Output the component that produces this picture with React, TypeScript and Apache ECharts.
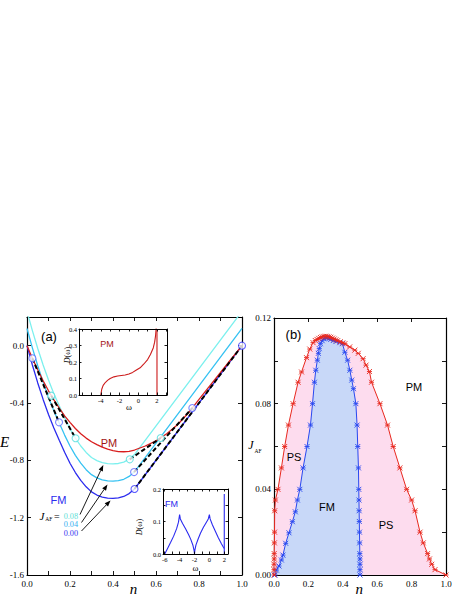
import React, { useEffect, useRef } from "react";
import * as echarts from "echarts";

// ---------- Panel (a): ground-state energy E(n) ----------
const nFM = [0, 0.025, 0.05, 0.075, 0.1, 0.125, 0.15, 0.175, 0.2, 0.225, 0.25, 0.275, 0.3, 0.325, 0.35, 0.375, 0.4, 0.425, 0.45, 0.475, 0.5, 1.0];
const eFM000 = [0, -0.135, -0.26, -0.375, -0.48, -0.575, -0.66, -0.744, -0.82, -0.885, -0.94, -0.985, -1.02, -1.042, -1.056, -1.063, -1.065, -1.062, -1.052, -1.032, -1.0, 0];
const eFM004 = [0.12, -0.015, -0.14, -0.255, -0.36, -0.455, -0.54, -0.624, -0.7, -0.765, -0.82, -0.865, -0.9, -0.922, -0.936, -0.943, -0.945, -0.942, -0.932, -0.912, -0.88, 0.12];
const eFM008 = [0.24, 0.105, -0.02, -0.135, -0.24, -0.335, -0.42, -0.504, -0.58, -0.645, -0.7, -0.745, -0.78, -0.802, -0.816, -0.823, -0.825, -0.822, -0.812, -0.792, -0.76, 0.24];

const nPM = [0, 0.025, 0.05, 0.075, 0.1, 0.125, 0.15, 0.175, 0.2, 0.225, 0.25, 0.275, 0.3, 0.325, 0.35, 0.375, 0.4, 0.425, 0.45, 0.475, 0.5, 0.55, 0.6, 0.65, 0.7, 0.75, 0.8, 0.85, 0.9, 0.95, 1.0];
const ePM = [0, -0.088, -0.17, -0.245, -0.315, -0.378, -0.435, -0.49, -0.535, -0.578, -0.615, -0.645, -0.67, -0.69, -0.708, -0.722, -0.733, -0.739, -0.74, -0.737, -0.728, -0.7, -0.664, -0.614, -0.552, -0.47, -0.375, -0.28, -0.187, -0.093, 0];

// common-tangent (Maxwell) constructions
const tangentLines = [
  [[0.025, -0.088], [0.149, -0.535]],
  [[0.113, -0.349], [0.226, -0.646]],
  [[0.478, -0.793], [0.622, -0.644]],
  [[0.498, -0.882], [0.769, -0.435]],
  [[0.5, -1.0], [1.0, 0.0]],
];
const circles004 = [[0.025, -0.088], [0.149, -0.535], [0.498, -0.882], [0.769, -0.435]];
const circles008 = [[0.113, -0.349], [0.226, -0.646], [0.478, -0.793], [0.622, -0.644]];
const circles000 = [[0.5, -1.0], [1.0, 0.0]];

// insets: density of states
const omegaPM = [-4, -3.9, -3.75, -3.5, -3.25, -3, -2.6, -2.2, -1.8, -1.4, -1.0, -0.6, -0.2, 0.2, 0.6, 1.0, 1.3, 1.6, 1.75, 1.85, 1.92];
const dosPM = [0, 0.035, 0.058, 0.077, 0.09, 0.1, 0.11, 0.115, 0.118, 0.121, 0.127, 0.137, 0.152, 0.165, 0.188, 0.215, 0.245, 0.285, 0.32, 0.36, 0.41];
const flatPM = [[2, 0], [2, 0.4]];

const omegaFM = [-6, -5.6, -5.2, -4.8, -4.4, -4.15, -4, -3.9, -3.6, -3.2, -2.8, -2.5, -2.2, -2.05, -2, -1.95, -1.8, -1.5, -1.2, -0.8, -0.4, -0.15, 0, 0.1, 0.4, 0.8, 1.2, 1.6, 1.9, 2];
const dosFM = [0, 0.018, 0.036, 0.055, 0.078, 0.098, 0.121, 0.108, 0.094, 0.078, 0.06, 0.045, 0.026, 0.01, 0, 0.012, 0.028, 0.047, 0.064, 0.082, 0.098, 0.108, 0.121, 0.108, 0.09, 0.07, 0.05, 0.032, 0.02, 0.017];
const flatFM = [[2, 0], [2, 0.185]];

// ---------- Panel (b): phase diagram ----------
const redN = [0, 0, 0, 0.001, 0.001, 0.002, 0.003, 0.004, 0.008, 0.023, 0.043, 0.062, 0.084, 0.111, 0.14, 0.16, 0.189, 0.208, 0.227, 0.24, 0.25, 0.26, 0.27, 0.28, 0.29, 0.3, 0.31, 0.32, 0.33, 0.34, 0.35, 0.36, 0.37, 0.385, 0.4, 0.412, 0.44, 0.47, 0.49, 0.518, 0.535, 0.555, 0.567, 0.616, 0.66, 0.693, 0.732, 0.771, 0.8, 0.82, 0.849, 0.868, 0.893, 0.904, 0.917, 0.936, 1.0];
const redJ = [0, 0.0025, 0.005, 0.0075, 0.01, 0.015, 0.02, 0.03, 0.035, 0.04, 0.05, 0.06, 0.07, 0.08, 0.09, 0.0948, 0.1015, 0.1055, 0.1085, 0.1095, 0.11, 0.1105, 0.1109, 0.1112, 0.1114, 0.1115, 0.1114, 0.1112, 0.111, 0.1106, 0.1102, 0.1098, 0.1094, 0.1089, 0.1084, 0.108, 0.1065, 0.105, 0.1035, 0.101, 0.098, 0.095, 0.09, 0.08, 0.07, 0.06, 0.05, 0.04, 0.035, 0.03, 0.02, 0.015, 0.01, 0.0075, 0.005, 0.0025, 0];

const blueN = [0.006, 0.014, 0.029, 0.043, 0.052, 0.068, 0.087, 0.107, 0.124, 0.136, 0.15, 0.169, 0.192, 0.212, 0.224, 0.235, 0.243, 0.252, 0.258, 0.263, 0.27, 0.28, 0.29, 0.3, 0.31, 0.32, 0.33, 0.345, 0.36, 0.383, 0.398, 0.412, 0.428, 0.441, 0.452, 0.462, 0.476, 0.483, 0.487, 0.491, 0.493, 0.494, 0.495, 0.496, 0.497, 0.498, 0.499, 0.5, 0.5, 0.5, 0.5];
const blueJ = [0, 0.0023, 0.0042, 0.007, 0.0093, 0.0148, 0.0197, 0.0249, 0.0295, 0.035, 0.04, 0.05, 0.06, 0.07, 0.08, 0.09, 0.0956, 0.1003, 0.1035, 0.1057, 0.108, 0.1094, 0.1103, 0.1108, 0.1108, 0.1104, 0.11, 0.1095, 0.109, 0.1085, 0.108, 0.104, 0.1003, 0.0956, 0.091, 0.087, 0.08, 0.07, 0.06, 0.05, 0.04, 0.035, 0.03, 0.025, 0.02, 0.015, 0.01, 0.0075, 0.005, 0.0025, 0];

// tick values
const insetPMTicks = [-6, -5, -4, -3, -2, -1, 0, 1, 2, 3];
const insetPMLabels = [-4, -2, 0, 2];
const insetFMTicks = [-6, -5, -4, -3, -2, -1, 0, 1, 2];
const insetFMLabels = [-6, -4, -2, 0, 2];

const SERIF = "'Liberation Serif', 'Times New Roman', serif";
const SANS = "'Liberation Sans', Arial, sans-serif";

const C_RED = "#d81e1e";
const C_PMTXT = "#a31515";
const C_LC = "#7cf0ee";
const C_MC = "#36c2f2";
const C_BLUE = "#2b2bee";
const C_CIRC04 = "#5a68ff";
const C_B_RED = "#e8281e";
const C_B_BLUE = "#2848f0";

const zip = (xs: number[], ys: number[]) => xs.map((x, i) => [x, ys[i]]);

function mkAxis(o: any) {
  const ax: any = {
    type: "value",
    gridIndex: o.grid,
    position: o.pos,
    min: o.min,
    max: o.max,
    z: o.z ?? 0,
    splitLine: { show: false },
    axisLine: { show: true, onZero: false, lineStyle: { color: "#000", width: o.lw } },
    axisTick: { show: true, inside: true, length: o.tick, lineStyle: { color: "#000", width: 0.9 } },
    minorTick: { show: !!o.minor, splitNumber: o.minor || 5, length: o.tick, lineStyle: { color: "#000", width: 0.9 } },
    minorSplitLine: { show: false },
    axisLabel: o.label
      ? { show: true, color: "#000", fontFamily: SERIF, showMinLabel: o.showMin !== false, showMaxLabel: o.showMax !== false, ...o.label }
      : { show: false },
  };
  if (o.interval) ax.interval = o.interval;
  if (o.tickCustom) ax.axisTick.customValues = o.tickCustom;
  if (o.labelCustom && o.label) ax.axisLabel.customValues = o.labelCustom;
  return ax;
}

function txt(text: string, x: number, y: number, font: string, fill = "#000", extra: any = {}) {
  return {
    type: "text",
    x,
    y,
    z: 100,
    style: { text, font, fill, align: "center", verticalAlign: "middle", ...extra },
  };
}

function arrow(x1: number, y1: number, x2: number, y2: number) {
  const dx = x2 - x1, dy = y2 - y1, L = Math.hypot(dx, dy);
  const ux = dx / L, uy = dy / L;
  const hl = 6, hw = 2.3;
  const bx = x2 - ux * hl, by = y2 - uy * hl;
  return [
    { type: "line", z: 100, shape: { x1, y1, x2: bx, y2: by }, style: { stroke: "#000", lineWidth: 0.9 } },
    {
      type: "polygon",
      z: 100,
      shape: { points: [[x2, y2], [bx - uy * hw, by + ux * hw], [bx + uy * hw, by - ux * hw]] },
      style: { fill: "#000" },
    },
  ];
}

const STAR = "path://M0,0L10,10M10,0L0,10M0,5L10,5";

export default function App() {
  const ref = useRef<HTMLDivElement>(null);
  useEffect(() => {
    if (!ref.current) return;
    const chart = echarts.init(ref.current, undefined, { renderer: "svg" });
    const mainLbl = { fontSize: 9 };
    const insetLbl = { fontSize: 6.5, margin: 2 };

    const lineS = (data: number[][], color: string, xi: number, yi: number, width = 1.3, extra: any = {}) => ({
      type: "line",
      xAxisIndex: xi,
      yAxisIndex: yi,
      data,
      symbol: "none",
      showSymbol: false,
      lineStyle: { color, width },
      itemStyle: { color },
      clip: true,
      ...extra,
    });

    const circ = (data: number[][], color: string) => ({
      type: "scatter",
      xAxisIndex: 0,
      yAxisIndex: 0,
      data,
      symbol: "circle",
      symbolSize: 7,
      itemStyle: { color: "#fff", borderColor: color, borderWidth: 1.1 },
      z: 5,
    });

    const insetX = (grid: number, min: number, max: number, ticks: number[], labels?: number[]) =>
      mkAxis({
        grid, pos: labels ? "bottom" : "top", min, max, tick: 2.5, lw: 1, z: 10,
        tickCustom: ticks, labelCustom: labels,
        label: labels ? { ...insetLbl, formatter: (v: number) => String(Math.round(v)) } : undefined,
      });

    const option: any = {
      animation: false,
      backgroundColor: "#fff",
      grid: [
        { left: 27, top: 317, width: 215, height: 258 },
        { left: 274, top: 318, width: 172, height: 257 },
        { left: 79, top: 329, width: 88, height: 66, show: true, backgroundColor: "#fff", borderWidth: 0, z: 1 },
        { left: 163, top: 489, width: 65, height: 65, show: true, backgroundColor: "#fff", borderWidth: 0, z: 1 },
      ],
      xAxis: [
        mkAxis({ grid: 0, pos: "bottom", min: 0, max: 1, interval: 0.2, minor: 2, tick: 4, lw: 1.2, label: { ...mainLbl, margin: 4, formatter: (v: number) => v.toFixed(1) } }),
        mkAxis({ grid: 0, pos: "top", min: 0, max: 1, interval: 0.2, minor: 2, tick: 4, lw: 1.2 }),
        mkAxis({ grid: 1, pos: "bottom", min: 0, max: 1, interval: 0.2, tick: 4, lw: 1.2, label: { ...mainLbl, margin: 4, formatter: (v: number) => v.toFixed(1) } }),
        mkAxis({ grid: 1, pos: "top", min: 0, max: 1, interval: 0.2, tick: 4, lw: 1.2 }),
        insetX(2, -6.33, 3.07, insetPMTicks, insetPMLabels),
        insetX(2, -6.33, 3.07, insetPMTicks),
        insetX(3, -6.23, 2.5, insetFMTicks, insetFMLabels),
        insetX(3, -6.23, 2.5, insetFMTicks),
      ],
      yAxis: [
        mkAxis({ grid: 0, pos: "left", min: -1.6, max: 0.2, interval: 0.4, tick: 4, lw: 1.2, showMax: false, label: { ...mainLbl, margin: 3, formatter: (v: number) => v.toFixed(1) } }),
        mkAxis({ grid: 0, pos: "right", min: -1.6, max: 0.2, interval: 0.4, tick: 4, lw: 1.2 }),
        mkAxis({ grid: 1, pos: "left", min: 0, max: 0.12, interval: 0.04, minor: 2, tick: 4, lw: 1.2, label: { ...mainLbl, margin: 3, formatter: (v: number) => v.toFixed(2) } }),
        mkAxis({ grid: 1, pos: "right", min: 0, max: 0.12, interval: 0.04, minor: 2, tick: 4, lw: 1.2 }),
        mkAxis({ grid: 2, pos: "left", min: 0, max: 0.4, interval: 0.1, tick: 2.5, lw: 1, z: 10, label: { ...insetLbl, formatter: (v: number) => v.toFixed(1) } }),
        mkAxis({ grid: 2, pos: "right", min: 0, max: 0.4, interval: 0.1, tick: 2.5, lw: 1, z: 10 }),
        mkAxis({ grid: 3, pos: "left", min: 0, max: 0.2, interval: 0.1, minor: 2, tick: 2.5, lw: 1, z: 10, label: { ...insetLbl, formatter: (v: number) => v.toFixed(1) } }),
        mkAxis({ grid: 3, pos: "right", min: 0, max: 0.2, interval: 0.1, minor: 2, tick: 2.5, lw: 1, z: 10 }),
      ],
      series: [
        // panel (a)
        lineS(zip(nFM, eFM008), C_LC, 0, 0),
        lineS(zip(nFM, eFM004), C_MC, 0, 0),
        lineS(zip(nFM, eFM000), C_BLUE, 0, 0),
        lineS(zip(nPM, ePM), C_RED, 0, 0),
        ...tangentLines.map((seg) => lineS(seg, "#000", 0, 0, 2, { lineStyle: { color: "#000", width: 2, type: [4.5, 2.5] }, z: 4 })),
        circ(circles008, "#55dede"),
        circ(circles004, C_CIRC04),
        circ(circles000, "#3a3aff"),
        // insets
        lineS(zip(omegaPM, dosPM), "#cc1a1a", 4, 4, 1.1, { z: 6 }),
        lineS(flatPM, "#cc1a1a", 4, 4, 1.1, { z: 6 }),
        lineS(zip(omegaFM, dosFM), "#2a2af0", 6, 6, 1.1, { z: 6 }),
        lineS(flatFM, "#2a2af0", 6, 6, 1.1, { z: 6 }),
        // panel (b) fills
        lineS(zip(redN, redJ), C_B_RED, 2, 2, 0, { lineStyle: { width: 0, opacity: 0 }, areaStyle: { color: "#fddcee", opacity: 1 }, z: 1 }),
        lineS(zip(blueN, blueJ), C_B_BLUE, 2, 2, 0, { lineStyle: { width: 0, opacity: 0 }, areaStyle: { color: "#c8d8f8", opacity: 1 }, z: 1 }),
        // panel (b) boundaries
        {
          type: "line", xAxisIndex: 2, yAxisIndex: 2, data: zip(blueN, blueJ),
          symbol: STAR, symbolSize: 5, showSymbol: true,
          lineStyle: { color: C_B_BLUE, width: 1 },
          itemStyle: { color: "none", borderColor: C_B_BLUE, borderWidth: 0.9 }, z: 3,
        },
        {
          type: "line", xAxisIndex: 2, yAxisIndex: 2, data: zip(redN, redJ),
          symbol: STAR, symbolSize: 5, showSymbol: true,
          lineStyle: { color: C_B_RED, width: 1 },
          itemStyle: { color: "none", borderColor: C_B_RED, borderWidth: 0.9 }, z: 4,
        },
      ],
      graphic: [
        // panel (a) labels
        txt("(a)", 49, 336, `13px ${SANS}`),
        txt("E", 4.5, 442, `italic 15px ${SERIF}`),
        txt("n", 133.5, 589, `italic 15px ${SERIF}`),
        txt("PM", 109, 442.5, `11px ${SANS}`, C_PMTXT),
        txt("FM", 58.5, 500, `11px ${SANS}`, C_BLUE),
        txt("J", 42, 515.5, `italic 11px ${SERIF}`),
        txt("AF", 48.7, 519, `5.5px ${SERIF}`),
        txt("=", 56.7, 516, `10px ${SERIF}`),
        txt("0.08", 70.8, 516.5, `8.2px ${SERIF}`, "#5fe0d6", { lineHeight: 8 }),
        txt("0.04", 70.8, 524.9, `8.2px ${SERIF}`, "#33b0f0", { lineHeight: 8 }),
        txt("0.00", 70.8, 533.3, `8.2px ${SERIF}`, "#3434f0", { lineHeight: 8 }),
        ...arrow(80, 514.5, 103.3, 465),
        ...arrow(81.5, 522.5, 107.5, 484.5),
        ...arrow(81.5, 531, 110.5, 500.5),
        // PM inset labels
        txt("PM", 107, 343.5, `9px ${SANS}`, C_PMTXT),
        {
          type: "text", x: 67, y: 355, z: 100, rotation: Math.PI / 2,
          style: { text: "{i|D}(ω)", font: `8px ${SERIF}`, fill: "#000", align: "center", verticalAlign: "middle", rich: { i: { fontStyle: "italic", fontSize: 8, fontFamily: SERIF } } },
        },
        txt("ω", 129, 406.5, `9px ${SERIF}`, "#000", { lineHeight: 8 }),
        // FM inset labels
        txt("FM", 171.5, 503.8, `9px ${SANS}`, C_BLUE),
        {
          type: "text", x: 139, y: 527, z: 100, rotation: Math.PI / 2,
          style: { text: "{i|D}(ω)", font: `8px ${SERIF}`, fill: "#000", align: "center", verticalAlign: "middle", rich: { i: { fontStyle: "italic", fontSize: 8, fontFamily: SERIF } } },
        },
        txt("ω", 195.5, 568, `9px ${SERIF}`, "#000", { lineHeight: 8 }),
        // panel (b) labels
        txt("(b)", 293.5, 334, `13px ${SANS}`),
        txt("J", 250.8, 444.5, `italic 12px ${SERIF}`),
        txt("AF", 258, 450.5, `5.5px ${SERIF}`),
        txt("n", 359.3, 588.5, `italic 15px ${SERIF}`),
        txt("PM", 414, 387, `11px ${SANS}`),
        txt("PS", 294, 457, `11px ${SANS}`),
        txt("FM", 327, 507, `11px ${SANS}`),
        txt("PS", 386, 525, `11px ${SANS}`),
      ],
    };
    chart.setOption(option);
    return () => chart.dispose();
  }, []);
  return (
    <div
      ref={ref}
      style={{ position: "absolute", left: 0, top: 0, width: 463, height: 599, background: "#fff" }}
    />
  );
}
